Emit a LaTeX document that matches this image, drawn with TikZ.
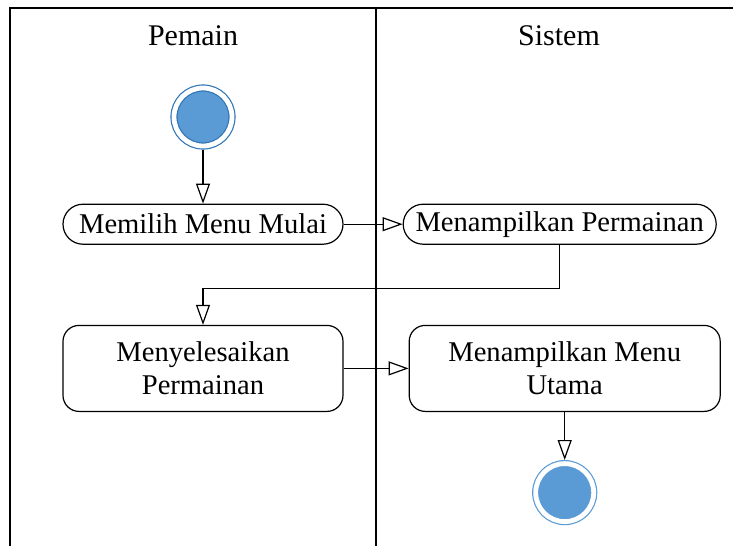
\documentclass[tikz,border=0pt]{standalone}
\usepackage{fontspec}
\setmainfont{Liberation Serif}
\usetikzlibrary{positioning, arrows.meta}
\definecolor{umlBlue}{RGB}{91,155,213}
\definecolor{umlDarkBlue}{RGB}{46,117,182}

\begin{document}
\begin{tikzpicture}[x=0.5pt, y=-0.5pt,
  act/.style={draw=black, line width=0.6pt, rounded corners=10pt, minimum height=20pt, inner sep=2pt, align=center, font=\fontsize{14.3}{16.5}\selectfont},
  bigact/.style={act, rounded corners=8pt, minimum height=43pt},
  initial/.style={circle, minimum size=29pt, inner sep=0pt, fill=umlBlue, draw=umlDarkBlue, line width=0.6pt, double=white, double distance=2.4pt, outer sep=1.8pt},
  final/.style={initial, draw=umlBlue},
  flow/.style={-{Triangle[open, length=10pt, width=7pt]}, line width=0.6pt},
  lane/.style={line width=0.65pt},
  lanetitle/.style={font=\fontsize{15}{18}\selectfont}
]
  \useasboundingbox (0,0) rectangle (733,546);
  % swimlanes
  \draw[lane] (733,8) -- (10,8) -- (10,546);
  \draw[lane] (376,8) -- (376,546);
  \node[lanetitle] (pemain) at (193,36) {Pemain};
  \node[lanetitle] (sistem) at (559,36) {Sistem};

  \node[initial] (start) at (203,117) {};
  \node[act, minimum width=140pt, below=27pt of start] (mulai) {Memilih Menu Mulai};
  \node[act, minimum width=156.5pt, right=29.5pt of mulai] (tampil) {Menampilkan Permainan};
  \node[bigact, minimum width=140pt, below=40pt of mulai] (selesai) {Menyelesaikan\\Permainan};
  \node[bigact, minimum width=155.5pt, right=32.5pt of selesai] (utama) {Menampilkan Menu\\Utama};
  \node[final, below=24pt of utama] (end) {};

  \draw[flow] (start) -- (mulai);
  \draw[flow] (mulai) -- (tampil);
  \draw[flow] (tampil.south) -- ++(0,44) -| (selesai.north);
  \draw[flow] (selesai) -- (utama);
  \draw[flow] (utama) -- (end);
\end{tikzpicture}
\end{document}
